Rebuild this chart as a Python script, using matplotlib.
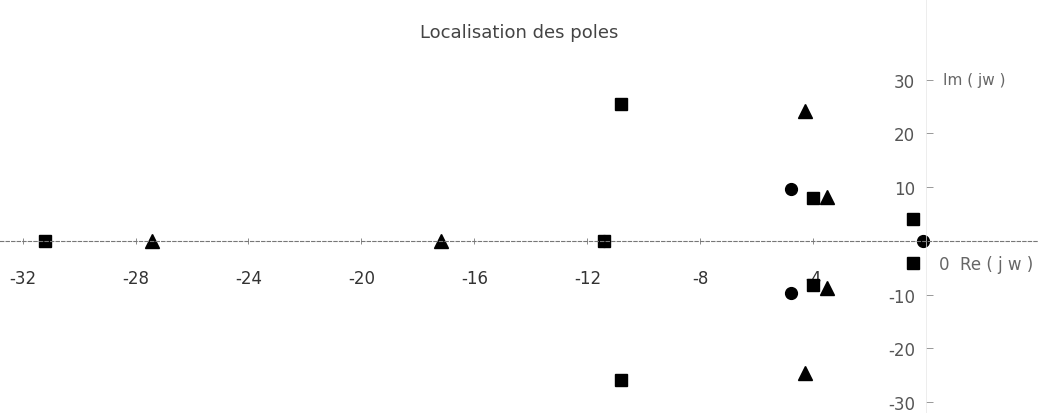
import matplotlib.pyplot as plt

square_re = [-31.2, -11.4, -10.8, -10.8, -4.0, -4.0, -0.45, -0.45]
square_im = [0, 0, 25.5, -25.8, 8, -8.2, 4, -4.1]
circle_re = [-11.4, -4.8, -4.8, -0.1]
circle_im = [0, 9.7, -9.7, 0]
triangle_re = [-27.4, -17.2, -4.3, -4.3, -3.5, -3.5]
triangle_im = [0, 0, 24.1, -24.6, 8.2, -8.8]

xticks = [-32, -28, -24, -20, -16, -12, -8, -4]
yticks = [-30, -20, -10, 10, 20, 30]

fig = plt.figure(figsize=(10.38, 4.14), dpi=100)
ax = fig.add_axes([0, 0, 1, 1])
ax.set_xlim(-32.8, 3.96)
ax.set_ylim(-32, 45)

ax.plot(square_re, square_im, 's', color='black', markersize=8.5)
ax.plot(circle_re, circle_im, 'o', color='black', markersize=8.5)
ax.plot(triangle_re, triangle_im, '^', color='black', markersize=9.5)

# axes crossing at the origin
for side in ['top', 'right']:
    ax.spines[side].set_visible(False)
ax.spines['bottom'].set_position(('data', 0))
ax.spines['left'].set_position(('data', 0))
ax.spines['bottom'].set_color('#777777')
ax.spines['bottom'].set_linestyle((0, (3, 2)))
ax.spines['bottom'].set_linewidth(0.8)
ax.spines['left'].set_color('#e6e6e6')
ax.spines['left'].set_linewidth(0.5)

ax.set_xticks(xticks)
ax.set_xticklabels([str(t) for t in xticks])
ax.set_yticks(yticks)
ax.set_yticklabels([str(t) for t in yticks])
ax.tick_params(axis='x', direction='inout', length=4, width=0.6, color='#777777',
               pad=18, labelsize=12, labelcolor='#333333')
ax.tick_params(axis='y', direction='in', length=5, width=0.6, color='#888888',
               pad=8, labelsize=12, labelcolor='#555555')

ax.text(0.45, -4.2, '0  Re ( j w )', fontsize=12, color='#666666', va='center', ha='left')
ax.text(0.6, 30, 'Im ( jw )', fontsize=11, color='#666666', va='center', ha='left')

fig.text(0.5, 0.92, 'Localisation des poles', fontsize=13, color='#444444', ha='center', va='center')

fig.savefig('out.png', dpi=100)
